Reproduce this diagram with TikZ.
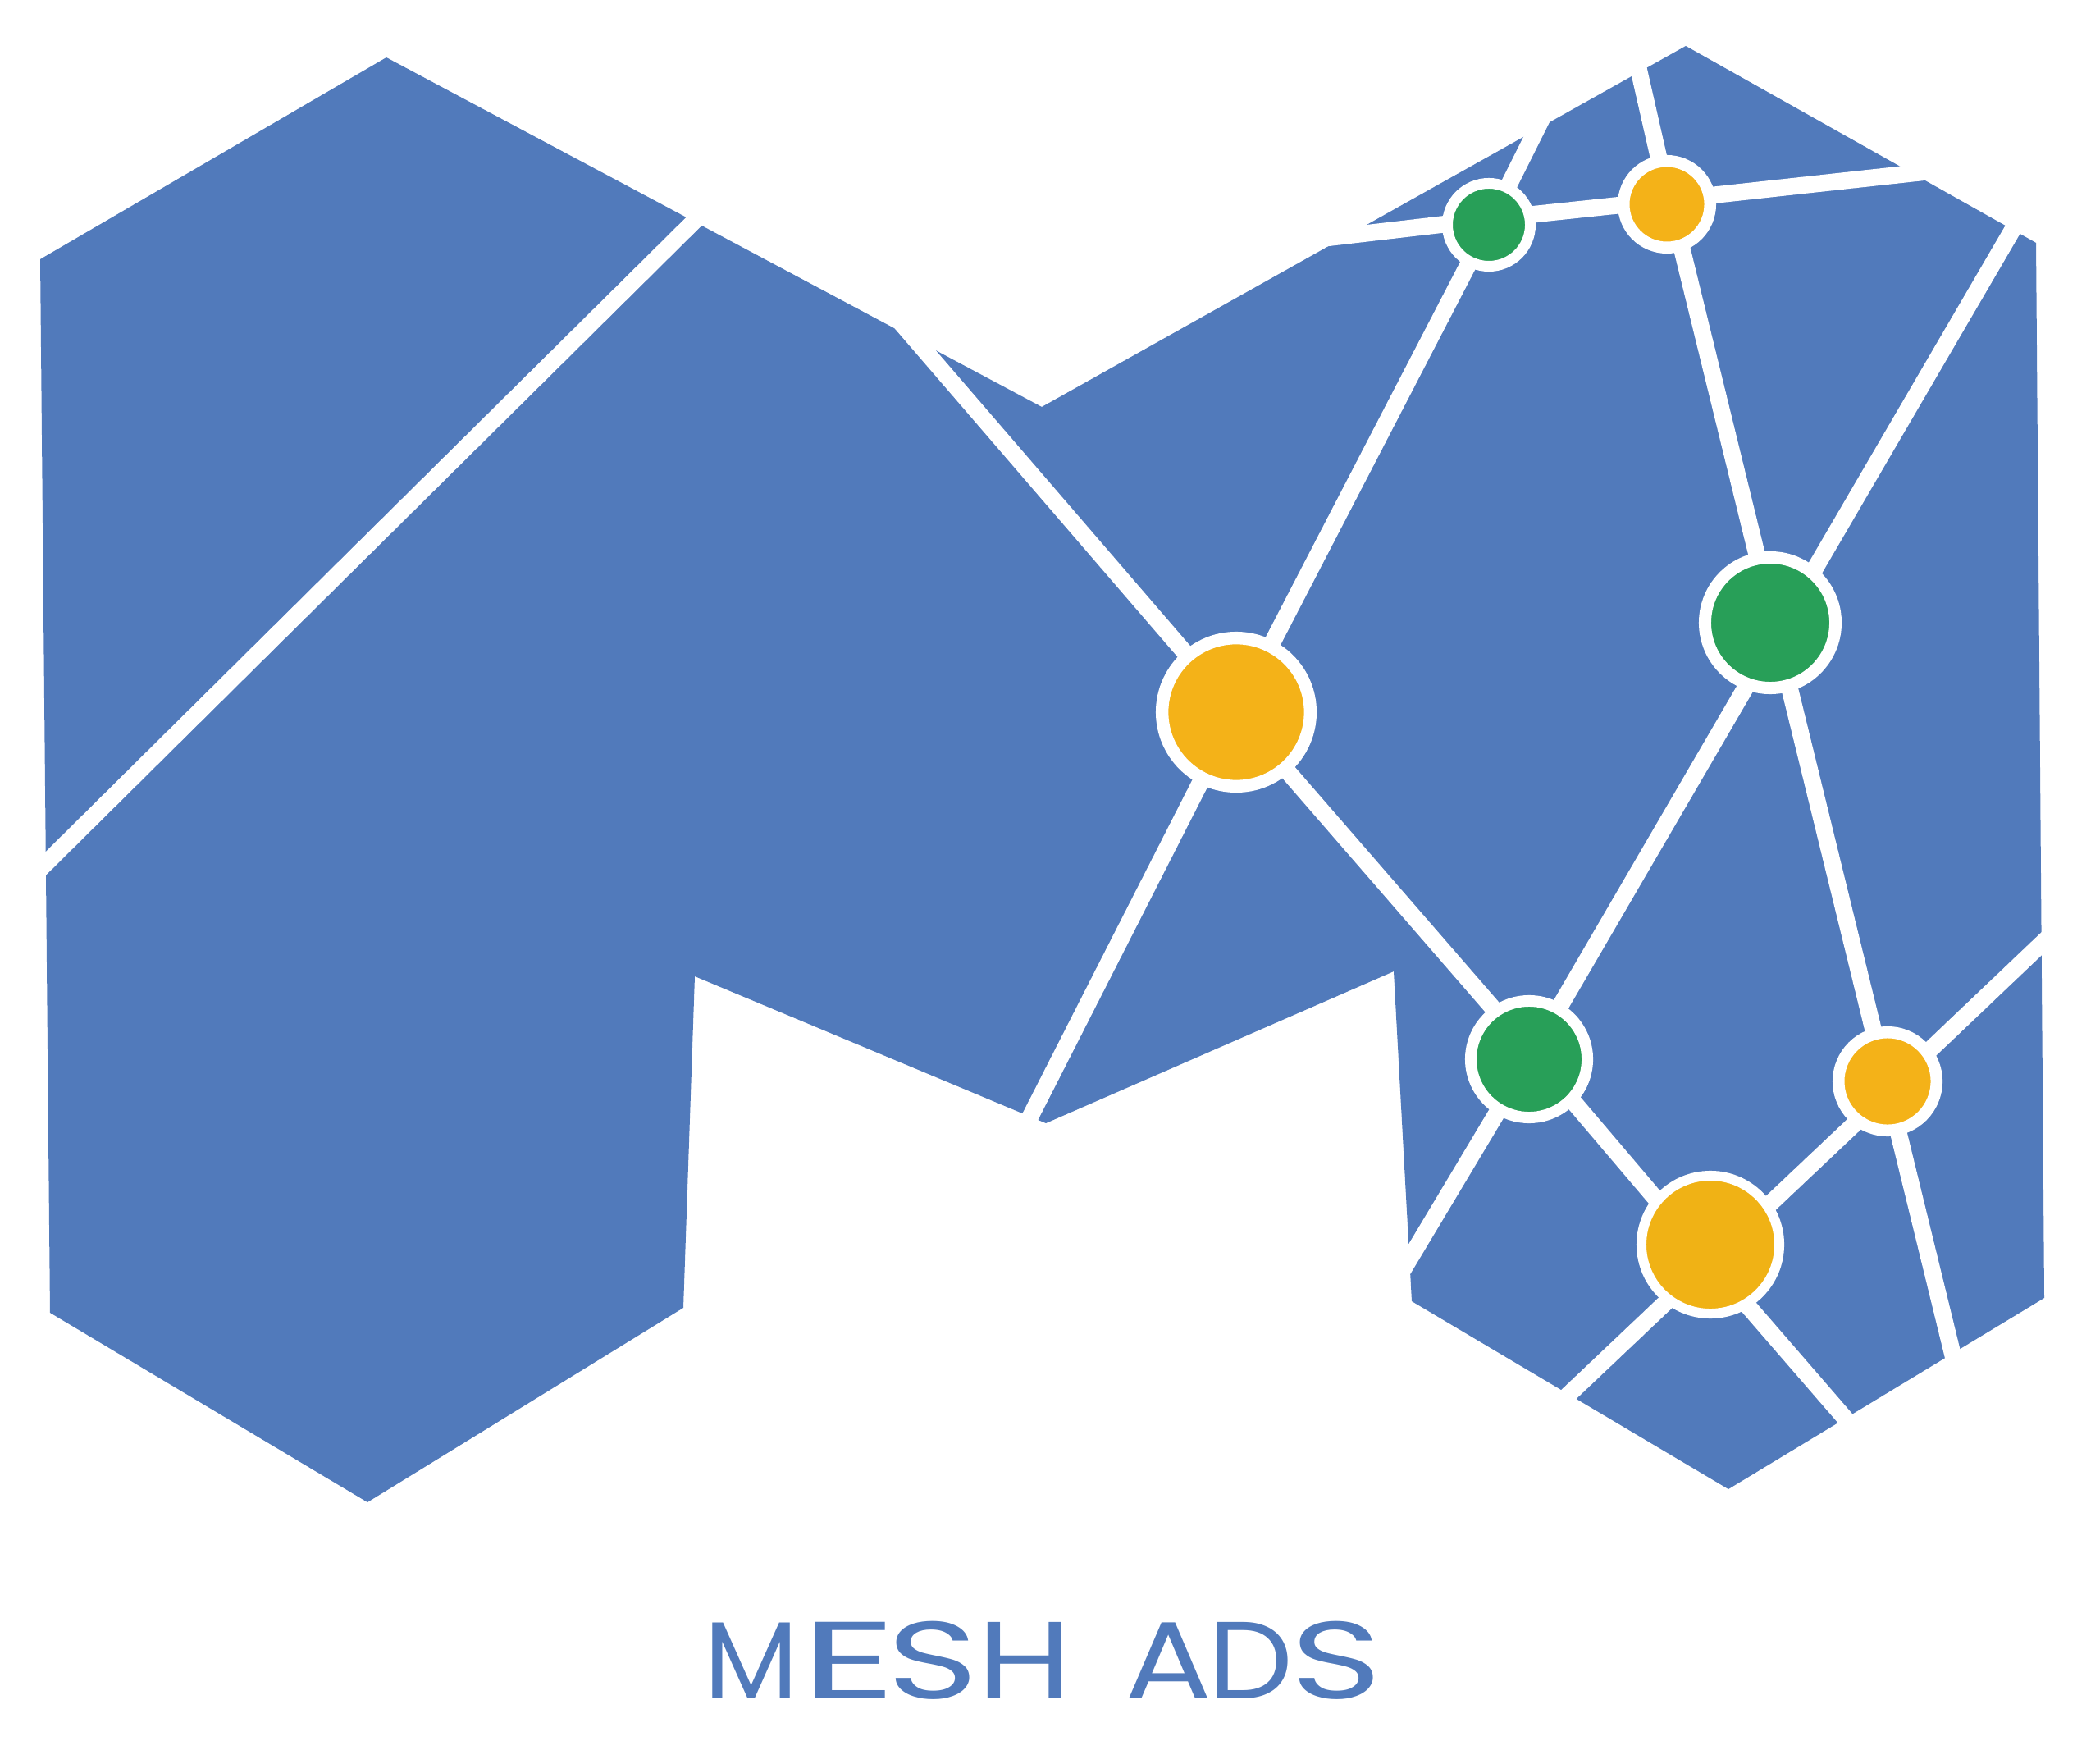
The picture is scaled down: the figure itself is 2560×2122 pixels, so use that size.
\documentclass[tikz,border=0pt]{standalone}
\usepackage{graphicx}
\usepackage{fontspec}
\setmainfont{Poppins}
\usetikzlibrary{calc}
\definecolor{meshblue}{HTML}{517ABB}
\definecolor{meshgreen}{HTML}{289F58}
\definecolor{meshorange}{HTML}{F4B218}
\definecolor{meshamber}{HTML}{F0B215}
\pgfdeclarelayer{underlay}
\pgfsetlayers{underlay,main}
\newcommand{\wideletter}[2]{\scalebox{#1}[1]{#2}}
\tikzset{
  link/.style={draw=white,line width=0.205cm},
  disc/.style n args={3}{circle,inner sep=0pt,outer sep=0pt,draw=white,fill=#1,
     minimum size=#2cm,line width=#3cm}
}
\begin{document}
\begin{tikzpicture}[x=0.01cm,y=-0.01cm]
\useasboundingbox (0,0) rectangle (2560,2122);
\coordinate (e1) at (860,256);
\coordinate (e2) at (30,1078);
\coordinate (a) at (1097,392);
\coordinate (b) at (1232,1408);
\coordinate (c) at (1891,122);
\coordinate (d) at (1600,292);
\coordinate (f) at (2380,206);
\coordinate (g) at (1992,60);
\coordinate (h) at (2471,250);
\coordinate (i) at (2390,1690);
\coordinate (j) at (1694,1575);
\coordinate (k) at (2510,1130);
\coordinate (l) at (1895,1716);
\coordinate (m) at (2285,1770);
\path
 (1507,868) node[disc={meshorange}{1.806}{0.154}] (O1) {}
 (1815,274) node[disc={meshgreen}{1.01}{0.13}] (G1) {}
 (2032,249) node[disc={meshorange}{1.055}{0.145}] (O2) {}
 (2158,759) node[disc={meshgreen}{1.59}{0.15}] (G2) {}
 (1864,1291) node[disc={meshgreen}{1.42}{0.14}] (G3) {}
 (2301,1318) node[disc={meshorange}{1.195}{0.145}] (O3) {}
 (2085,1517) node[disc={meshamber}{1.68}{0.12}] (O4) {};
\begin{pgfonlayer}{underlay}
\fill[meshblue] (471,70) -- (49,316) -- (61,1600) -- (448,1831) -- (833,1594) -- (847,1190)
  -- (1275,1369) -- (1699,1184) -- (1721,1586) -- (2107,1815) -- (2492,1582) -- (2482,296)
  -- (2055,56) -- (1270,496) -- cycle;
\draw[link] (e1) -- (e2);
\draw[link] (a) -- (O1);
\draw[link] (O1) -- ($(G3)+(10,0)$);
\draw[link] ($(G3)+(10,0)$) -- ($(O4)+(-19,0)$);
\draw[link] ($(O4)+(-19,0)$) -- (m);
\draw[link] (O1) -- (G1);
\draw[link] (O1) -- (b);
\draw[link] (G1) -- (c);
\draw[link] (d) -- ($(G1)+(0,-7)$);
\draw[link] ($(G1)+(0,-7)$) -- ($(O2)+(0,-5)$);
\draw[link] ($(O2)+(0,-5)$) -- (f);
\draw[link] ($(O2)+(3,0)$) -- (g);
\draw[link] ($(O2)+(5,0)$) -- ($(G2)+(4,0)$);
\draw[link] ($(G2)+(4,0)$) -- ($(O3)+(-2,0)$);
\draw[link] ($(O3)+(-2,0)$) -- (i);
\draw[link] ($(G2)+(16,0)$) -- (h);
\draw[link] ($(G2)+(16,0)$) -- (G3);
\draw[link] (G3) -- (j);
\draw[link] ($(O3)+(3,8)$) -- (k);
\draw[link] ($(O3)+(3,11)$) -- ($(O4)+(1,18)$);
\draw[link] ($(O4)+(1,18)$) -- (l);
\end{pgfonlayer}
\node[text=meshblue,inner sep=0pt,anchor=center] (title) at (1271.5,2023.5)
  {\fontsize{38}{38}\selectfont
   M\kern0.03cm\wideletter{1.7}{E}\kern-0.115cm\wideletter{1.42}{S}\kern-0.015cm\wideletter{1.25}{H}\hspace{0.42em}\kern0.08cm\wideletter{1.18}{A}\kern-0.05cm\wideletter{1.1}{D}\kern-0.03cm\wideletter{1.42}{S}};
\end{tikzpicture}
\end{document}
